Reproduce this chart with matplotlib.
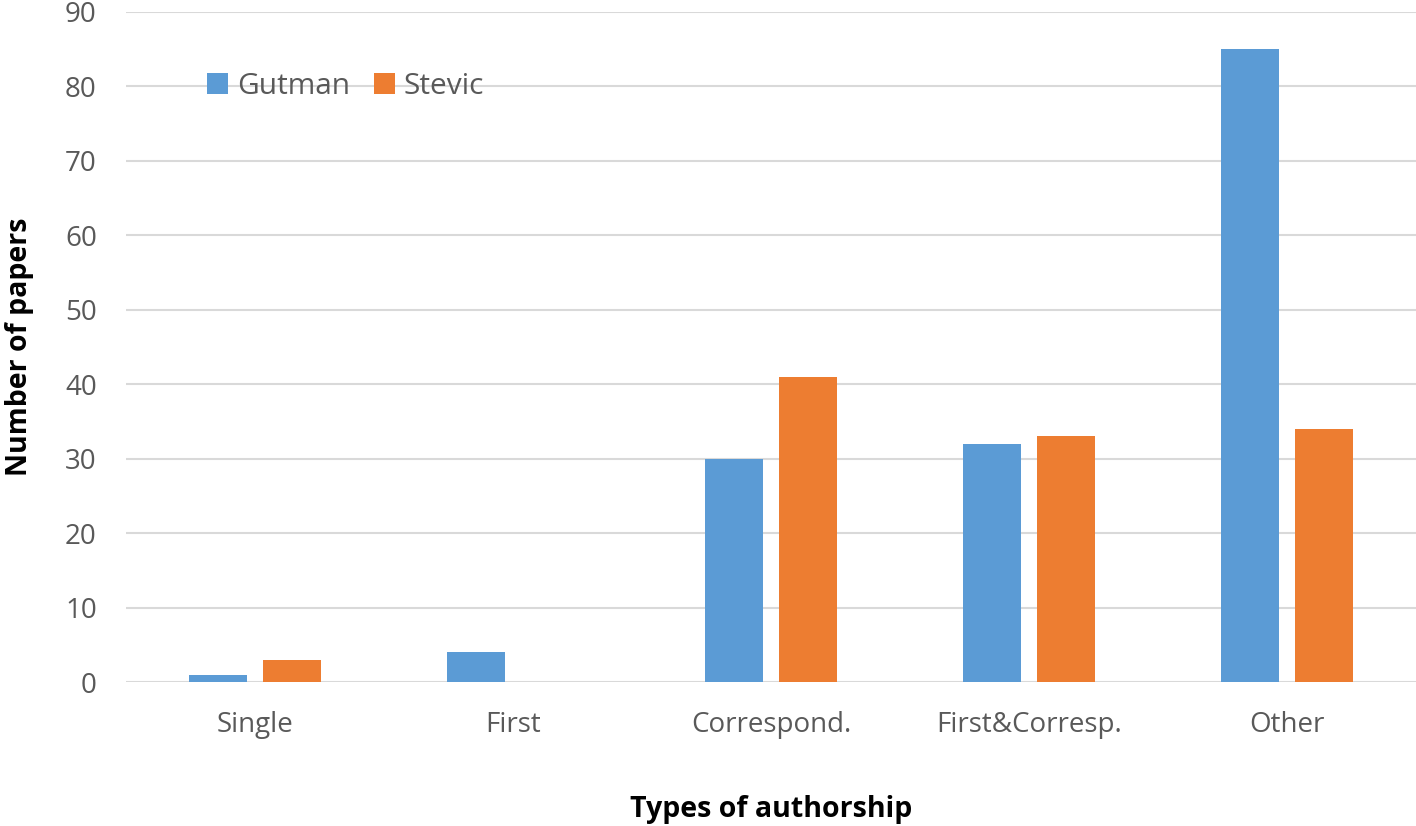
import numpy as np
import matplotlib
matplotlib.use("Agg")
import matplotlib.pyplot as plt

categories = ["Single", "First", "Correspond.", "First&Corresp.", "Other"]
gutman = [1, 4, 30, 32, 85]
stevic = [3, 0, 41, 33, 34]
yticks = list(range(0, 91, 10))

BLUE = "#5b9bd5"
ORANGE = "#ed7d31"
GRID = "#d9d9d9"
TEXT = "#595959"

plt.rcParams["font.family"] = ["Open Sans", "DejaVu Sans"]

fig = plt.figure(figsize=(14.16, 8.26), dpi=100)
ax = fig.add_axes([0.089, 0.1743, 0.911, 0.8112])

x = np.arange(len(categories))
w = 0.225
off = 0.143
ax.bar(x - off, gutman, w, color=BLUE, label="Gutman", zorder=2)
ax.bar(x + off, stevic, w, color=ORANGE, label="Stevic", zorder=2)

ax.set_xlim(-0.5, len(categories) - 0.5)
ax.set_ylim(0, 90)
ax.set_yticks(yticks)
ax.set_xticks(x)
ax.set_xticklabels(categories)
ax.grid(axis="y", color=GRID, linewidth=1.5, zorder=0)
ax.tick_params(axis="both", length=0, labelsize=20, labelcolor=TEXT)
ax.tick_params(axis="y", pad=21)
ax.tick_params(axis="x", pad=21)
for spine in ax.spines.values():
    spine.set_visible(False)

ax.set_ylabel("Number of papers", fontsize=20.5, fontweight="bold", color="black", labelpad=22)
ax.set_xlabel("Types of authorship", fontsize=20.5, fontweight="bold", color="black", labelpad=40)

leg = ax.legend(loc="upper left", bbox_to_anchor=(0.042, 0.95), ncol=2, frameon=False,
                fontsize=21.5, handlelength=0.7, handleheight=0.7, handletextpad=0.3,
                columnspacing=0.8, labelcolor=TEXT)

fig.savefig("out.png", dpi=100, facecolor="white")
